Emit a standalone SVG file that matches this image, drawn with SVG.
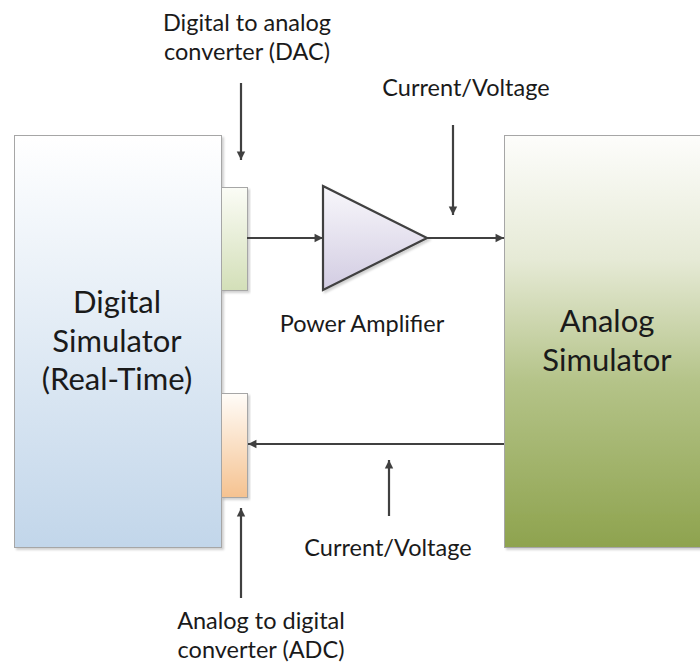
<svg xmlns="http://www.w3.org/2000/svg" width="700" height="664" viewBox="0 0 700 664">
  <style>
    .lbl { font-family: Lato, "Open Sans", "Liberation Sans", sans-serif; font-size: 23.5px; fill: #1a1a1a; text-anchor: middle; }
    .big { font-family: Lato, "Open Sans", "Liberation Sans", sans-serif; font-size: 31px; fill: #1a1a1a; text-anchor: middle; }
    .box { stroke: #a6a6a6; stroke-width: 1; }
    .wire { stroke: #404040; stroke-width: 2.2; fill: none; marker-end: url(#arrow); }
  </style>
  <defs>
    <linearGradient id="gDigital" x1="0" y1="0" x2="0" y2="1">
      <stop offset="0" stop-color="#ffffff"/>
      <stop offset="1" stop-color="#c2d6ea"/>
    </linearGradient>
    <linearGradient id="gDac" x1="0" y1="0" x2="0" y2="1">
      <stop offset="0" stop-color="#fbfcf6"/>
      <stop offset="1" stop-color="#d3dfb8"/>
    </linearGradient>
    <linearGradient id="gAdc" x1="0" y1="0" x2="0" y2="1">
      <stop offset="0" stop-color="#fffcf8"/>
      <stop offset="1" stop-color="#f5c290"/>
    </linearGradient>
    <linearGradient id="gAnalog" x1="0" y1="0" x2="0" y2="1">
      <stop offset="0" stop-color="#fdfdfb"/>
      <stop offset="0.3" stop-color="#e6ead6"/>
      <stop offset="0.6" stop-color="#b4c388"/>
      <stop offset="1" stop-color="#8ea34e"/>
    </linearGradient>
    <linearGradient id="gAmp" x1="0" y1="0" x2="0" y2="1">
      <stop offset="0" stop-color="#f8f7fb"/>
      <stop offset="1" stop-color="#d2cce2"/>
    </linearGradient>
    <marker id="arrow" viewBox="0 0 10 10" refX="10" refY="5" markerWidth="6" markerHeight="6" markerUnits="userSpaceOnUse" orient="auto" overflow="visible">
      <path d="M0,0 L10,5 L0,10 Z" fill="#404040" transform="scale(1.4) translate(-2.9,-1.4)"/>
    </marker>
    <filter id="shadow" x="-5%" y="-5%" width="115%" height="115%">
      <feDropShadow dx="2" dy="2" stdDeviation="1.2" flood-color="#000000" flood-opacity="0.18"/>
    </filter>
  </defs>

  <!-- blocks -->
  <g id="digital-simulator">
    <rect class="box" x="14.5" y="135.5" width="207" height="412" fill="url(#gDigital)" filter="url(#shadow)"/>
    <text class="big" x="117" y="313">Digital</text>
    <text class="big" x="117" y="352">Simulator</text>
    <text class="big" x="117" y="390">(Real-Time)</text>
  </g>
  <g id="dac">
    <rect class="box" x="221.5" y="187.5" width="26" height="103" fill="url(#gDac)" filter="url(#shadow)"/>
  </g>
  <g id="adc">
    <rect class="box" x="221.5" y="393.5" width="26" height="104" fill="url(#gAdc)" filter="url(#shadow)"/>
  </g>
  <g id="analog-simulator">
    <rect class="box" x="504.5" y="135.5" width="210" height="412" fill="url(#gAnalog)" filter="url(#shadow)"/>
    <text class="big" x="607" y="332">Analog</text>
    <text class="big" x="607" y="371">Simulator</text>
  </g>
  <g id="power-amplifier">
    <polygon points="323,186 427,238 323,290" fill="url(#gAmp)" stroke="#404040" stroke-width="2.2" stroke-linejoin="miter" filter="url(#shadow)"/>
    <text class="lbl" x="362" y="332">Power Amplifier</text>
  </g>

  <!-- labels -->
  <g id="labels">
    <text class="lbl" x="247" y="31">Digital to analog</text>
    <text class="lbl" x="247" y="60">converter (DAC)</text>
    <text class="lbl" x="466" y="96">Current/Voltage</text>
    <text class="lbl" x="388" y="556">Current/Voltage</text>
    <text class="lbl" x="261" y="629">Analog to digital</text>
    <text class="lbl" x="261" y="658">converter (ADC)</text>
  </g>

  <!-- connectors -->
  <g id="connectors">
    <line class="wire" x1="247" y1="238" x2="323" y2="238"/>
    <line class="wire" x1="427" y1="238" x2="504" y2="238"/>
    <line class="wire" x1="504" y1="444" x2="248" y2="444"/>
    <line class="wire" x1="241" y1="83" x2="241" y2="160"/>
    <line class="wire" x1="453" y1="125" x2="453" y2="215"/>
    <line class="wire" x1="389" y1="516" x2="389" y2="460"/>
    <line class="wire" x1="241" y1="598" x2="241" y2="508"/>
  </g>
</svg>
